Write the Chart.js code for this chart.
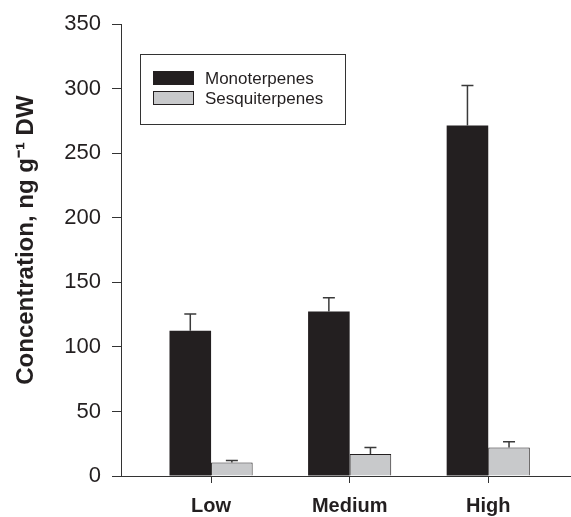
<!DOCTYPE html>
<html>
<head>
<meta charset="utf-8">
<script src="https://cdn.jsdelivr.net/npm/chart.js@4"></script>
<style>
  html, body { margin: 0; padding: 0; background: #fff; }
  #wrap { width: 571px; height: 517px; }
</style>
</head>
<body>
<div id="wrap"><canvas id="barChart" width="571" height="517"></canvas></div>
<script>
// terpene concentrations per treatment level
const categories = ["Low", "Medium", "High"];
const monoterpenes = [112.5, 127.5, 271.5];
const monoErr = [13, 10.5, 31];
const sesquiterpenes = [10.5, 17, 22];
const sesquiErr = [1.5, 5, 4.5];
const yTicks = [0, 50, 100, 150, 200, 250, 300, 350];

const FONT = "'Liberation Sans', Arial, Helvetica, sans-serif";
const AXIS = "#333333";

// draws the upward error bars with a cap
const errorBars = {
  id: "errorBars",
  afterDatasetsDraw(chart) {
    const ctx = chart.ctx;
    const y = chart.scales.y;
    chart.data.datasets.forEach((ds, di) => {
      const meta = chart.getDatasetMeta(di);
      meta.data.forEach((bar, i) => {
        const top = y.getPixelForValue(ds.data[i].y + ds.errors[i]);
        const base = y.getPixelForValue(ds.data[i].y);
        ctx.save();
        ctx.strokeStyle = "#3a3a3a";
        ctx.lineWidth = 1.5;
        ctx.beginPath();
        ctx.moveTo(bar.x, base);
        ctx.lineTo(bar.x, top);
        ctx.moveTo(bar.x - 6, top);
        ctx.lineTo(bar.x + 6, top);
        ctx.stroke();
        ctx.restore();
      });
    });
  }
};

// boxed legend inside the plot
const boxLegend = {
  id: "boxLegend",
  afterDraw(chart, args, opts) {
    const ctx = chart.ctx;
    ctx.save();
    ctx.strokeStyle = AXIS;
    ctx.lineWidth = 1;
    ctx.strokeRect(opts.x + 0.5, opts.y + 0.5, opts.w, opts.h);
    ctx.font = "17px " + FONT;
    ctx.textBaseline = "middle";
    chart.data.datasets.forEach((ds, i) => {
      const sy = opts.y + opts.firstRow + i * opts.rowGap;
      ctx.fillStyle = ds.backgroundColor;
      ctx.fillRect(opts.x + 13, sy - 7, 41, 14);
      ctx.strokeStyle = "#231f20";
      ctx.strokeRect(opts.x + 13.5, sy - 6.5, 40, 13);
      ctx.fillStyle = "#231f20";
      ctx.fillText(ds.label, opts.x + 65, sy + 1);
    });
    ctx.restore();
  }
};

new Chart(document.getElementById("barChart"), {
  type: "bar",
  data: {
    datasets: [
      {
        label: "Monoterpenes",
        data: monoterpenes.map((v, i) => ({ x: i, y: v })),
        errors: monoErr,
        backgroundColor: "#231f20",
        borderWidth: 0
      },
      {
        label: "Sesquiterpenes",
        data: sesquiterpenes.map((v, i) => ({ x: i, y: v })),
        errors: sesquiErr,
        backgroundColor: "#c8c9cb",
        borderColor: "#231f20",
        borderWidth: 1
      }
    ]
  },
  options: {
    responsive: false,
    animation: false,
    categoryPercentage: 0.6,
    barPercentage: 1,
    layout: { padding: { top: 20, right: 1, left: 0, bottom: 0 } },
    plugins: {
      legend: { display: false },
      tooltip: { enabled: false },
      boxLegend: { x: 140, y: 54, w: 205, h: 70, firstRow: 24, rowGap: 20 }
    },
    scales: {
      x: {
        type: "linear",
        min: -0.65,
        max: 2.59,
        offset: false,
        afterBuildTicks: (s) => { s.ticks = categories.map((c, i) => ({ value: i })); },
        afterFit: (s) => { s.height = 41; },
        grid: { offset: false, drawOnChartArea: false, drawTicks: true, tickLength: 7, color: AXIS },
        border: { display: true, color: AXIS, width: 1 },
        ticks: {
          callback: (v) => categories[v],
          color: "#231f20",
          font: { family: FONT, size: 20, weight: "bold" },
          padding: 11,
          maxRotation: 0
        }
      },
      y: {
        min: 0,
        max: 350,
        afterBuildTicks: (s) => { s.ticks = yTicks.map((v) => ({ value: v })); },
        afterFit: (s) => { s.width = 121; },
        grid: { drawOnChartArea: false, drawTicks: true, tickLength: 9, color: AXIS },
        border: { display: true, color: AXIS, width: 1 },
        ticks: {
          color: "#231f20",
          font: { family: FONT, size: 22 },
          padding: 11
        },
        title: {
          display: true,
          text: "   Concentration, ng g\u207B\u00B9 DW",
          color: "#231f20",
          font: { family: FONT, size: 24, weight: "bold" },
          padding: { top: 12, bottom: 0 }
        }
      }
    }
  },
  plugins: [errorBars, boxLegend]
});
</script>
</body>
</html>
